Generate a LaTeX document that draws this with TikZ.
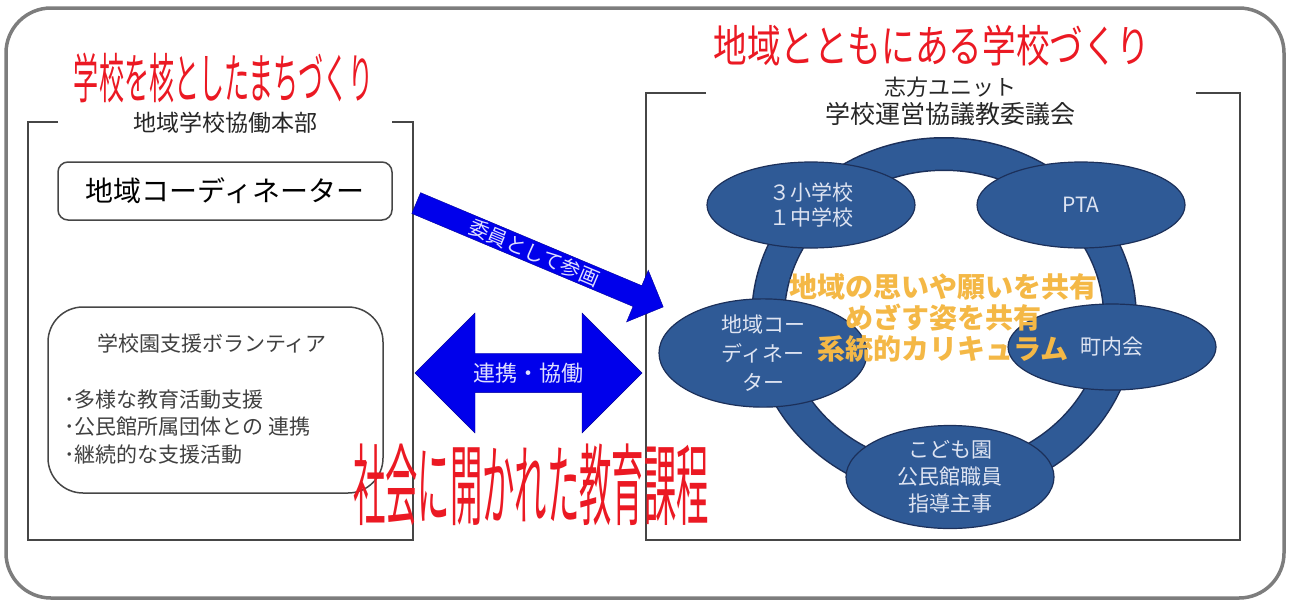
\documentclass[tikz,border=0pt]{standalone}
\usepackage{fontspec}
\setmainfont{Noto Sans CJK JP}
\usepackage{graphicx}
\usepackage{xcolor}
\usetikzlibrary{shapes.geometric,
	shapes.arrows,
	positioning}
\definecolor{ringblue}{RGB}{47,90,150}
\definecolor{ringline}{RGB}{28,48,90}
\definecolor{ovaltext}{RGB}{222,228,242}
\definecolor{arrowblue}{RGB}{0,0,235}
\definecolor{titlered}{RGB}{235,25,35}
\definecolor{goalorange}{RGB}{244,184,70}
\definecolor{framegray}{RGB}{70,70,70}
\definecolor{outergray}{RGB}{125,125,125}
\tikzset{
	oval/.style={ellipse, draw=ringline, line width=1.2pt, fill=ringblue, text=ovaltext,
		minimum width=208pt, minimum height=86pt, inner sep=0pt, align=center,
		font=\fontsize{21}{27}\selectfont},
	redtitle/.style={text=titlered, inner sep=0pt},
	frametitle/.style={inner sep=0pt, align=center, text=black!85},
	blockarrow/.style={draw=blue!60!black, fill=arrowblue, text=white!88!blue, inner sep=0pt,
		font=\fontsize{22}{22}\selectfont},
	roundbox/.style={draw=framegray, line width=1.5pt}
}

\begin{document}
\begin{tikzpicture}[x=1pt,y=-1pt]
		\useasboundingbox (0,0) rectangle (1289,603);
		\draw [outergray, line width=3.5pt, rounded corners=45pt] (6,8) rectangle (1284,598);
		% the two open frames
		\draw [framegray, line width=1.8pt] (58,122) -- (28,122) -- (28,540) -- (413,540) -- (413,122) -- (392,122);
		\draw [framegray, line width=1.8pt] (706,93) -- (646,93) -- (646,540) -- (1240,540) -- (1240,93) -- (1196,93);
		\node [redtitle] (lefttitle) at (224,78) {\resizebox*{300pt}{50pt}{学校を核としたまちづくり}};
		\node [redtitle] (righttitle) at (932,46) {\resizebox*{437pt}{41pt}{地域とともにある学校づくり}};
		\node [frametitle, font=\fontsize{23}{23}\selectfont] (honbu) at (225,123) {地域学校協働本部};
		\node [frametitle, font=\fontsize{22}{22}\selectfont] (unit) at (950,87) {志方ユニット};
		\node [frametitle, font=\fontsize{25}{25}\selectfont, below=5pt of unit] (council) {学校運営協議教委議会};
		% left side
		\node [roundbox, rounded corners=10pt, minimum width=334pt, minimum height=58pt,
			font=\fontsize{28}{28}\selectfont] (coordbox) at (225,191) {地域コーディネーター};
		\node [roundbox, rounded corners=35pt, minimum width=335pt, minimum height=186pt] (volbox) at (215.5,400) {};
		\node [text=black!75, font=\fontsize{21}{21}\selectfont] (voltitle) at (212,343) {学校園支援ボランティア};
		\node [text=black!75, anchor=west, align=left, inner sep=0pt, font=\fontsize{21}{27.5}\selectfont] (vollist) at (64,427)
			{･多様な教育活動支援\\･公民館所属団体との 連携\\･継続的な支援活動};
		% arrows
		\node [blockarrow, single arrow, single arrow head extend=14pt, minimum width=56pt, minimum height=268pt,
			rotate=-22.8, anchor=tail, font=\fontsize{20}{20}\selectfont] (sanka) at (416,203) {委員として参画};
		\node [blockarrow, double arrow, double arrow head extend=21.5pt, minimum width=120pt,
			minimum height=227pt] (renkei) at (528.5,373) {連携・協働};
		\node [redtitle] (curriculum) at (531,485) {\resizebox*{356pt}{82pt}{社会に開かれた教育課程}};
		% ring of members
		\draw [ringline, line width=34pt] (944,318) ellipse (176 and 164);
		\draw [ringblue, line width=31pt] (944,318) ellipse (176 and 164);
		\node [oval, font=\fontsize{21}{25}\selectfont] (schools) at (811,205) {３小学校\\１中学校};
		\node [oval] (pta) at (1081,205) {PTA};
		\node [oval, font=\fontsize{21}{29}\selectfont] (coord) at (763,353) {地域コー\\ディネー\\ター};
		\node [oval] (chonai) at (1112,347) {町内会};
		\node [oval] (kodomo) at (950,477) {こども園\\公民館職員\\指導主事};
		\node [text=goalorange, align=center, font=\bfseries\fontsize{28}{31}\selectfont] (goals) at (943,318)
			{地域の思いや願いを共有\\めざす姿を共有\\系統的カリキュラム};
\end{tikzpicture}
\end{document}
